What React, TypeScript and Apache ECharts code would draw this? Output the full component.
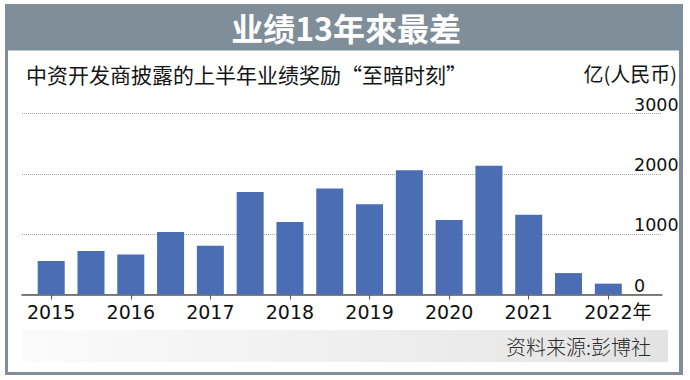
import React, { useEffect, useRef } from "react";
import * as echarts from "echarts";

const periods = [
  "2015上", "2015下", "2016上", "2016下", "2017上", "2017下", "2018上", "2018下",
  "2019上", "2019下", "2020上", "2020下", "2021上", "2021下", "2022上",
];
const values = [555, 720, 665, 1035, 810, 1700, 1200, 1755, 1495, 2060, 1235, 2135, 1320, 355, 180];
const yMin = 0;
const yMax = 3000;
const yInterval = 1000;
const titleText = "业绩13年來最差";
const subtitleText = "中资开发商披露的上半年业绩奖励“至暗时刻”";
const unitText = "亿(人民币)";
const sourceText = "资料来源:彭博社";

const CJK = '"Noto Sans CJK SC", "Noto Sans", sans-serif';
const NUM = '"DejaVu Sans", "Noto Sans CJK SC", sans-serif';

export default function App() {
  const ref = useRef<HTMLDivElement>(null);
  useEffect(() => {
    if (!ref.current) return;
    const chart = echarts.init(ref.current, null, { renderer: "svg" });
    const last = periods.length - 1;
    const xData = periods.map((p, i) =>
      i === last ? { value: p, textStyle: { padding: [0, 0, 0, 19] } } : p
    );
    chart.setOption({
      animation: false,
      backgroundColor: "#ffffff",
      graphic: [
        { type: "rect", z: -10, shape: { x: 5, y: 4, width: 678, height: 371 }, style: { fill: "#7f8e98" } },
        { type: "rect", z: -9, shape: { x: 8, y: 50.5, width: 671, height: 321.5 }, style: { fill: "#ffffff" } },
        {
          type: "rect", z: -8, shape: { x: 22, y: 330, width: 646, height: 32 },
          style: {
            fill: new echarts.graphic.LinearGradient(0, 0, 1, 0, [
              { offset: 0, color: "#fbfbfb" },
              { offset: 1, color: "#e3e3e3" },
            ]),
          },
        },
        {
          type: "text", z: 10, x: 346, y: 27,
          style: { text: titleText, fill: "#ffffff", font: `bold 32px ${CJK}`, align: "center", verticalAlign: "middle" },
        },
        {
          type: "text", z: 10, x: 26, y: 74,
          style: { text: subtitleText, fill: "#151515", font: `21px ${CJK}`, align: "left", verticalAlign: "middle" },
        },
        {
          type: "text", z: 10, x: 677, y: 73,
          style: { text: unitText, fill: "#151515", font: `20px ${CJK}`, align: "right", verticalAlign: "middle" },
        },
        {
          type: "text", z: 10, x: 651, y: 346,
          style: { text: sourceText, fill: "#2a2a2a", font: `300 20px ${CJK}`, align: "right", verticalAlign: "middle" },
        },
      ],
      grid: [
        { left: 31.3, right: 61.8, top: 113.5, bottom: 85.5 },
        { left: 22, right: 28, top: 113.5, bottom: 85.5 },
      ],
      xAxis: [
        {
          type: "category",
          gridIndex: 0,
          data: xData,
          boundaryGap: true,
          axisLine: { show: false },
          axisTick: { show: true, alignWithLabel: true, interval: 1, length: 5, lineStyle: { color: "#555555", width: 1 } },
          axisLabel: {
            interval: 1,
            margin: 8,
            color: "#111111",
            fontFamily: NUM,
            fontSize: 19,
            formatter: (v: string, i: number) => v.slice(0, 4) + (i === last ? "年" : ""),
          },
          splitLine: { show: false },
        },
        {
          type: "value",
          gridIndex: 1,
          min: 0,
          max: 1,
          axisLine: { show: true, onZero: false, lineStyle: { color: "#555555", width: 1.5 } },
          axisTick: { show: false },
          axisLabel: { show: false },
          splitLine: { show: false },
        },
      ],
      yAxis: [
        {
          type: "value",
          gridIndex: 0,
          min: yMin,
          max: yMax,
          interval: yInterval,
          show: false,
        },
        {
          type: "value",
          gridIndex: 1,
          position: "right",
          min: yMin,
          max: yMax,
          interval: yInterval,
          axisLine: { show: false },
          axisTick: { show: false },
          axisLabel: {
            margin: -28,
            align: "left",
            verticalAlign: "bottom",
            color: "#111111",
            fontFamily: NUM,
            fontSize: 17.5,
            formatter: (v: number) => String(v),
          },
          splitLine: { show: true, lineStyle: { type: "dotted", color: "#a8a8a8", width: 1 } },
        },
      ],
      series: [
        {
          type: "bar",
          xAxisIndex: 0,
          yAxisIndex: 0,
          data: values,
          barWidth: 27,
          itemStyle: { color: "#4a6db3" },
          z: 3,
        },
      ],
    });
    return () => chart.dispose();
  }, []);
  return (
    <div
      ref={ref}
      style={{ position: "fixed", left: 0, top: 0, width: 690, height: 380 }}
    />
  );
}
